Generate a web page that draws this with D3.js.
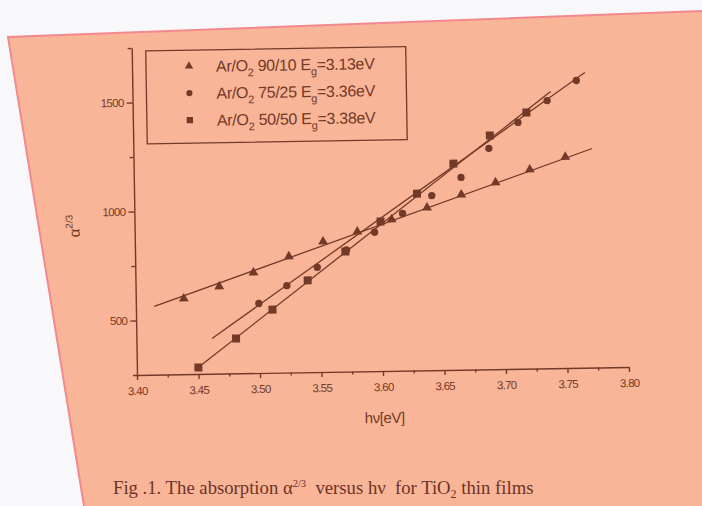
<!DOCTYPE html>
<html>
<head>
<meta charset="utf-8">
<script src="https://cdn.jsdelivr.net/npm/d3@7"></script>
<style>
body { margin: 0; background: #f8f8fa; }
</style>
</head>
<body>
<script>
// values (hv in eV, alpha^2/3)
var hv9010 = [3.439, 3.468, 3.496, 3.525, 3.553, 3.581, 3.609, 3.638, 3.666, 3.694, 3.722, 3.751];
var a9010  = [597, 650, 711, 782, 848, 891, 944, 996, 1053, 1106, 1163, 1218];
var hv7525 = [3.500, 3.523, 3.548, 3.572, 3.595, 3.618, 3.642, 3.666, 3.689, 3.713, 3.737, 3.761];
var a7525  = [569, 649, 730, 808, 887, 971, 1051, 1132, 1263, 1380, 1478, 1568];
var hv5050 = [3.450, 3.481, 3.511, 3.540, 3.571, 3.600, 3.630, 3.660, 3.690, 3.720];
var a5050  = [280, 410, 540, 671, 801, 936, 1061, 1196, 1322, 1425];

// straight fit lines drawn through each set (ends)
var fitHv = [[3.415, 3.773], [3.4615, 3.768], [3.448, 3.74]];
var fitA  = [[563, 1255], [412, 1604], [272, 1520]];

var ratios = ["90/10", "75/25", "50/50"];
var gaps = ["3.13", "3.36", "3.38"];
var xTicks = [3.40, 3.45, 3.50, 3.55, 3.60, 3.65, 3.70, 3.75, 3.80];
var xMinor = [3.425, 3.475, 3.525, 3.575, 3.625, 3.675, 3.725, 3.775];
var yTicks = [500, 1000, 1500];
var yMinor = [250, 750, 1250, 1750];

var ink = "#743a28";
var sans = "Liberation Sans, Arial, sans-serif";
var svg = d3.select("body").append("svg")
    .attr("width", 702)
    .attr("height", 506);

// the photographed page
svg.append("rect").attr("width", 702).attr("height", 506).attr("fill", "#f8f8fa");
svg.append("path")
    .attr("d", "M8,37 L702,11 L702,506 L84,506 Z")
    .attr("fill", "#f9b597");
svg.append("path")
    .attr("d", "M84,506 L8,37 L702,11")
    .attr("fill", "none")
    .attr("stroke", "#f3898f")
    .attr("stroke-width", 2);

// chart is slightly tilted in the photo
var g = svg.append("g").attr("transform", "translate(137,375) rotate(-0.93)");

var x = d3.scaleLinear().domain([3.40, 3.80]).range([0, 492]);
var y = d3.scaleLinear().domain([250, 1750]).range([0, -327]);

//x axis
var xa = g.append("g")
    .call(d3.axisBottom(x).tickValues(xTicks).tickSize(5).tickSizeOuter(0).tickFormat(d3.format(".2f")));
g.append("g")
    .call(d3.axisBottom(x).tickValues(xMinor).tickSize(3).tickFormat(""))
    .select(".domain").remove();

//y axis
var ya = g.append("g")
    .call(d3.axisLeft(y).tickValues(yTicks).tickSize(6).tickSizeOuter(0).tickFormat(d3.format("d")));
g.append("g")
    .call(d3.axisLeft(y).tickValues(yMinor).tickSize(4).tickFormat(""))
    .select(".domain").remove();

g.selectAll(".domain, .tick line")
    .attr("stroke", ink)
    .attr("stroke-width", 1.4);
g.selectAll(".tick text")
    .attr("fill", ink)
    .attr("font-size", "11.5px")
    .attr("letter-spacing", "-0.7px")
    .attr("font-family", sans);
xa.selectAll(".tick text").attr("dy", "1.05em");

// axis titles
g.append("text")
    .attr("x", 247)
    .attr("y", 52)
    .attr("text-anchor", "middle")
    .attr("font-family", sans)
    .attr("font-size", "15px")
    .attr("letter-spacing", "-0.4px")
    .attr("fill", ink)
    .text("hν[eV]");

var yl = g.append("text")
    .attr("transform", "translate(-55,-150) rotate(-90)")
    .attr("text-anchor", "middle")
    .attr("font-family", sans)
    .attr("font-size", "15px")
    .attr("fill", ink);
yl.append("tspan").text("α");
yl.append("tspan").attr("dy", -7).attr("font-size", "10px").text("2/3");

// fit lines
var line = d3.line()
    .x(function(d) { return x(d[0]); })
    .y(function(d) { return y(d[1]); });
fitHv.forEach(function(h, i) {
    g.append("path")
        .attr("d", line([[h[0], fitA[i][0]], [h[1], fitA[i][1]]]))
        .attr("fill", "none")
        .attr("stroke", ink)
        .attr("stroke-width", 1.3);
});

// markers
var shapes = [d3.symbolTriangle, d3.symbolCircle, d3.symbolSquare];
var sizes = [42, 42, 64];
var sets = [[hv9010, a9010], [hv7525, a7525], [hv5050, a5050]];
sets.forEach(function(s, i) {
    g.selectAll(".m" + i)
        .data(s[0])
        .enter()
        .append("path")
        .attr("class", "m" + i)
        .attr("d", d3.symbol().type(shapes[i]).size(sizes[i]))
        .attr("transform", function(d, j) { return "translate(" + x(d) + "," + y(s[1][j]) + ")"; })
        .attr("fill", ink);
});

// legend
var lg = g.append("g");
lg.append("rect")
    .attr("x", 14)
    .attr("y", -324)
    .attr("width", 260)
    .attr("height", 93)
    .attr("fill", "none")
    .attr("stroke", ink)
    .attr("stroke-width", 1.3);
ratios.forEach(function(r, i) {
    var ry = -308 + i * 27;
    lg.append("path")
        .attr("d", d3.symbol().type(shapes[i]).size(i == 2 ? 40 : 30))
        .attr("transform", "translate(57," + ry + ")")
        .attr("fill", ink);
    var t = lg.append("text")
        .attr("x", 84)
        .attr("y", ry + 6)
        .attr("font-family", sans)
        .attr("font-size", "16px")
        .attr("letter-spacing", "-0.3px")
        .attr("fill", ink);
    t.append("tspan").text("Ar/O");
    t.append("tspan").attr("dy", 5).attr("font-size", "11px").text("2");
    t.append("tspan").attr("dy", -5).text(" " + r + " E");
    t.append("tspan").attr("dy", 5).attr("font-size", "11px").text("g");
    t.append("tspan").attr("dy", -5).text("=" + gaps[i] + "eV");
});

// caption below the figure
var cap = svg.append("text")
    .attr("x", 113)
    .attr("y", 494)
    .attr("font-family", "Liberation Serif, Times New Roman, serif")
    .attr("font-size", "18.7px")
    .attr("fill", "#6e3326");
cap.append("tspan").text("Fig .1. The absorption α");
cap.append("tspan").attr("dy", -7).attr("font-size", "10.5px").text("2/3");
cap.append("tspan").attr("dy", 7).text("\u00a0 versus hν \u00a0for TiO");
cap.append("tspan").attr("dy", 4).attr("font-size", "12px").text("2");
cap.append("tspan").attr("dy", -4).text(" thin films");
</script>
</body>
</html>
